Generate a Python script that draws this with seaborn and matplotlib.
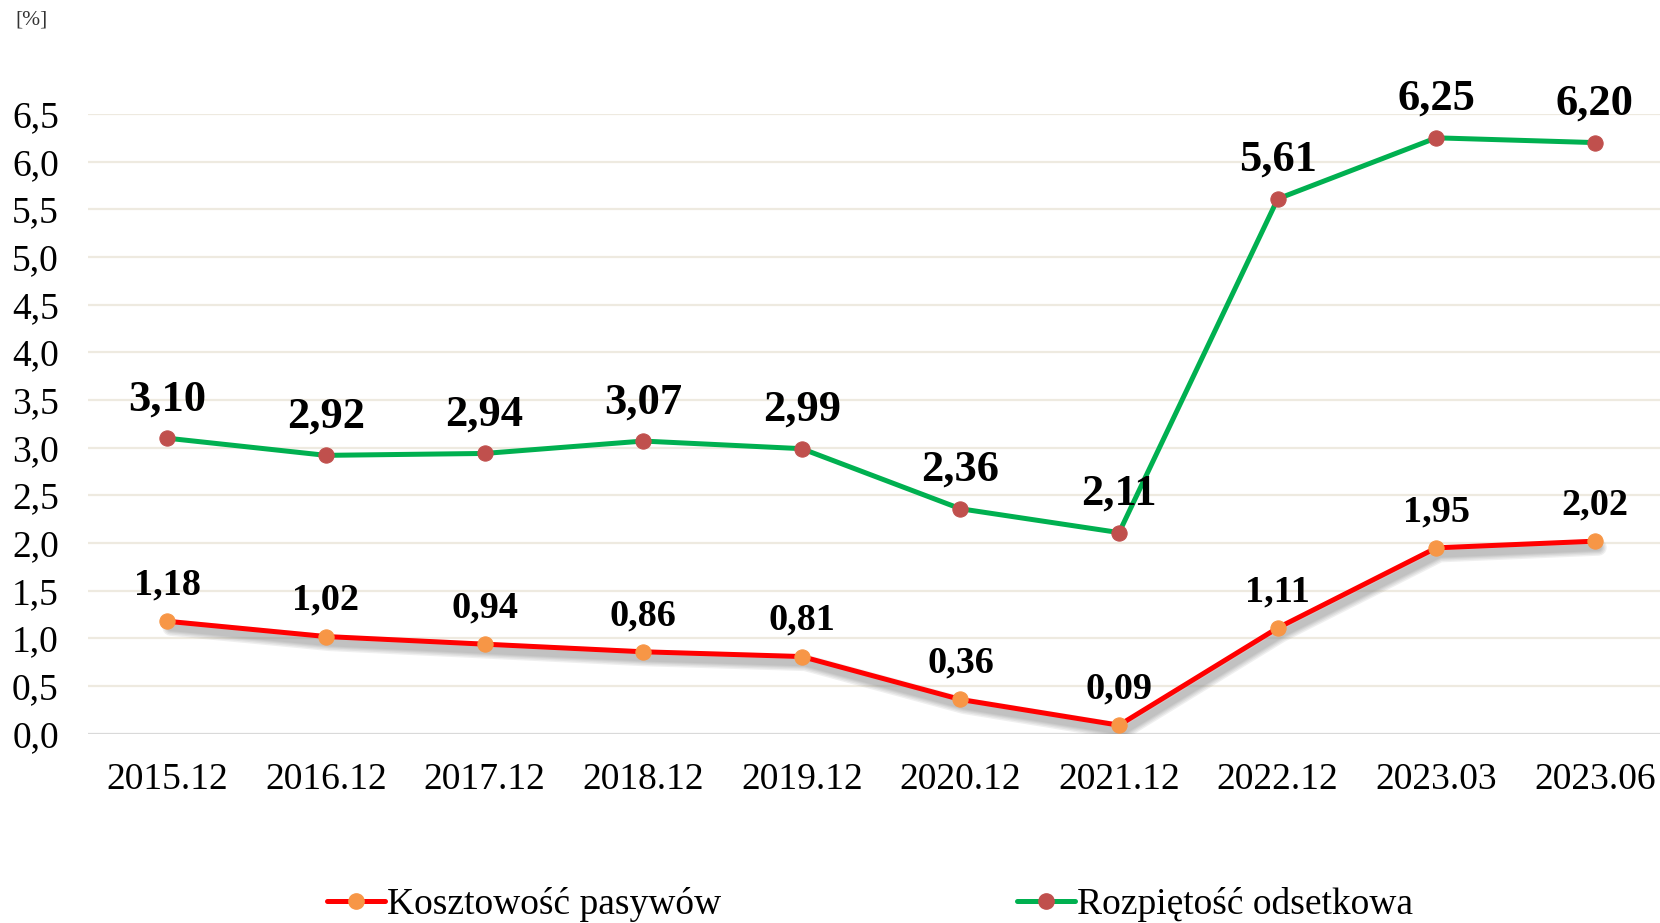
import matplotlib
matplotlib.use("Agg")
import matplotlib.pyplot as plt
import matplotlib.patheffects as pe
import seaborn as sns
import pandas as pd
from matplotlib.lines import Line2D

# dane
okresy = ['2015.12', '2016.12', '2017.12', '2018.12', '2019.12',
          '2020.12', '2021.12', '2022.12', '2023.03', '2023.06']
kosztowosc = [1.18, 1.02, 0.94, 0.86, 0.81, 0.36, 0.09, 1.11, 1.95, 2.02]
rozpietosc = [3.10, 2.92, 2.94, 3.07, 2.99, 2.36, 2.11, 5.61, 6.25, 6.20]
y_ticks = [0.0, 0.5, 1.0, 1.5, 2.0, 2.5, 3.0, 3.5, 4.0, 4.5, 5.0, 5.5, 6.0, 6.5]

sns.set_style("white")
plt.rcParams['font.family'] = ['Liberation Serif', 'DejaVu Serif']
plt.rcParams['text.color'] = 'black'
plt.rcParams['xtick.color'] = 'black'
plt.rcParams['ytick.color'] = 'black'

fig = plt.figure(figsize=(16.6, 9.23), dpi=100)
ax = fig.add_axes([0.053, 0.205, 0.947, 0.6715])

pos = list(range(len(okresy)))
df = pd.DataFrame({'x': pos, 'k': kosztowosc, 'r': rozpietosc})

# linie siatki
for v in y_ticks:
    ax.axhline(v, color='#D9D9D9' if v == 0 else '#EEEAE0', lw=1.6, zorder=0)

# rozpiętość odsetkowa
sns.lineplot(data=df, x='x', y='r', ax=ax, color='#00B050', lw=3.6,
             marker='o', markersize=11, markerfacecolor='#C0504D',
             markeredgecolor='#C0504D', zorder=3)

# cień pod linią kosztowości (rozmyty, kilka warstw)
sns.lineplot(data=df, x='x', y='k', ax=ax, color='none', lw=3.6, zorder=2)
ax.lines[-1].set_path_effects([
    pe.SimpleLineShadow(offset=(2.5, -4.5), shadow_color='#808080', alpha=0.12, rho=1, linewidth=lw)
    for lw in (12, 10, 8, 6.5, 5)])

# kosztowość pasywów
sns.lineplot(data=df, x='x', y='k', ax=ax, color='#FF0000', lw=3.6,
             marker='o', markersize=11, markerfacecolor='#F79646',
             markeredgecolor='#F79646', zorder=3)

# etykiety danych
for x, v in zip(pos, rozpietosc):
    ax.annotate(f'{v:.2f}'.replace('.', ','), (x, v), xytext=(0, 28),
                textcoords='offset points', ha='center', va='center',
                fontsize=32, fontweight='bold', annotation_clip=False)
for x, v in zip(pos, kosztowosc):
    ax.annotate(f'{v:.2f}'.replace('.', ','), (x, v), xytext=(0, 26),
                textcoords='offset points', ha='center', va='center',
                fontsize=27.5, fontweight='bold', annotation_clip=False)

ax.set_xlim(-0.5, 9.41)
ax.set_ylim(0, 6.5)
ax.set_xticks(pos)
ax.set_xticklabels(okresy, fontsize=27)
ax.set_yticks(y_ticks)
ax.set_yticklabels([f'{v:.1f}'.replace('.', ',') for v in y_ticks], fontsize=27)
ax.tick_params(axis='y', length=0, pad=21)
ax.tick_params(axis='x', length=0, pad=21)
ax.set_xlabel('')
ax.set_ylabel('')
for s in ax.spines.values():
    s.set_visible(False)

fig.text(0.019, 0.978, '[%]', fontsize=15.5, ha='center', va='center', color='#333333')

uchwyty = [
    Line2D([], [], color='#FF0000', lw=3.6, marker='o', markersize=11,
           markerfacecolor='#F79646', markeredgecolor='#F79646'),
    Line2D([], [], color='#00B050', lw=3.6, marker='o', markersize=11,
           markerfacecolor='#C0504D', markeredgecolor='#C0504D'),
]
fig.legend(uchwyty, ['Kosztowość pasywów', 'Rozpiętość odsetkowa'],
           loc='center', bbox_to_anchor=(0.524, 0.02), ncol=2, frameon=False,
           fontsize=27, handlelength=1.55, handletextpad=0.05, columnspacing=7.9)

fig.savefig('out.png', dpi=100)
